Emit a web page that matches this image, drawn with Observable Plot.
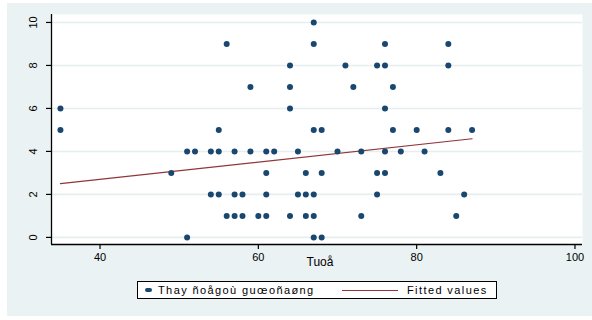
<!DOCTYPE html>
<html>
<head>
<meta charset="utf-8">
<script src="https://cdn.jsdelivr.net/npm/d3@7"></script>
<script src="https://cdn.jsdelivr.net/npm/@observablehq/plot@0.6"></script>
<style>
  body { margin: 0; background: #ffffff; font-family: "Liberation Sans", Arial, sans-serif; }
  #fig { position: absolute; left: 7px; top: 3px; width: 585px; height: 313px; background: #eaf2f3; }
  #fig svg { display: block; }
  #legend { position: relative; margin-left: 130px; margin-top: 6px; width: 358px; height: 16px;
            border: 1px solid #000; background: #fff; font-size: 11px; letter-spacing: 1.4px; color: #000; }
  #legend .item { position: absolute; top: 0; line-height: 16px; white-space: nowrap; }
  #legend .mk { position: absolute; left: 7px; top: 6px; width: 7px; height: 4px; border-radius: 2px; background: #1a476f; }
  #legend .ln { position: absolute; left: 204px; top: 8px; width: 56px; height: 1px; background: #90353b; }
</style>
</head>
<body>
<div id="fig">
  <div id="chart"></div>
  <div id="legend">
    <span class="mk"></span>
    <span class="item" style="left:20px">Thay ñoågoù guœoñaøng</span>
    <span class="ln"></span>
    <span class="item" style="left:269px">Fitted values</span>
  </div>
</div>
<script>
// Age (Tuoå) and change values of each observation
const age    = [67,
                56, 67, 76, 84,
                64, 71, 75, 76, 84,
                59, 64, 72, 77,
                35, 64, 76,
                35, 55, 67, 68, 77, 80, 84, 87,
                51, 52, 54, 55, 57, 59, 61, 62, 65, 70, 73, 76, 78, 81,
                49, 61, 66, 68, 75, 76, 83,
                54, 55, 57, 58, 61, 65, 66, 67, 75, 86,
                56, 57, 58, 60, 61, 64, 66, 67, 73, 85,
                51, 67, 68];
const change = [10,
                9, 9, 9, 9,
                8, 8, 8, 8, 8,
                7, 7, 7, 7,
                6, 6, 6,
                5, 5, 5, 5, 5, 5, 5, 5,
                4, 4, 4, 4, 4, 4, 4, 4, 4, 4, 4, 4, 4, 4,
                3, 3, 3, 3, 3, 3, 3,
                2, 2, 2, 2, 2, 2, 2, 2, 2, 2,
                1, 1, 1, 1, 1, 1, 1, 1, 1, 1,
                0, 0, 0];
// Fitted values line (read endpoints)
const fitX = [35, 87];
const fitY = [2.50, 4.59];
// Axes
const xDomain = [33.87, 100.95];
const yDomain = [-0.33, 10.37];
const xTicks = [40, 60, 80, 100];
const yTicks = [0, 2, 4, 6, 8, 10];

const data = age.map((a, i) => ({age: a, change: change[i]}));
const fit = fitX.map((x, i) => ({x, y: fitY[i]}));

const chart = Plot.plot({
  width: 585, height: 272,
  marginLeft: 44, marginRight: 10, marginTop: 11, marginBottom: 31,
  style: {background: "transparent", fontFamily: "Liberation Sans, Arial, sans-serif", fontSize: "11px", color: "black"},
  x: {domain: xDomain},
  y: {domain: yDomain},
  marks: [
    Plot.frame({fill: "white", stroke: "none"}),
    Plot.gridY(yTicks, {stroke: "#e6eef0", strokeOpacity: 1, strokeWidth: 1.6}),
    Plot.ruleX([xDomain[0]], {stroke: "black", strokeWidth: 1.3}),
    Plot.ruleY([yDomain[0]], {stroke: "black", strokeWidth: 1.3}),
    Plot.axisY(yTicks, {tickSize: 5, tickFormat: () => "", label: null, strokeWidth: 1.2}),
    Plot.text(yTicks, {x: () => xDomain[0], y: d => d, text: d => String(d), rotate: -90, dx: -18.5, fill: "black", fontSize: 11, letterSpacing: 1}),
    Plot.axisX(xTicks, {tickSize: 5, tickPadding: 4, label: null, strokeWidth: 1.2, letterSpacing: 1}),
    Plot.text(["Tuoå"], {frameAnchor: "bottom", dy: 21.5, dx: 3, fill: "black", fontSize: 12, letterSpacing: 0.5}),
    Plot.line(fit, {x: "x", y: "y", stroke: "#90353b", strokeWidth: 1.2}),
    Plot.dot(data, {x: "age", y: "change", r: 3, fill: "#1a476f", stroke: "none"})
  ]
});
document.getElementById("chart").append(chart);
</script>
</body>
</html>
